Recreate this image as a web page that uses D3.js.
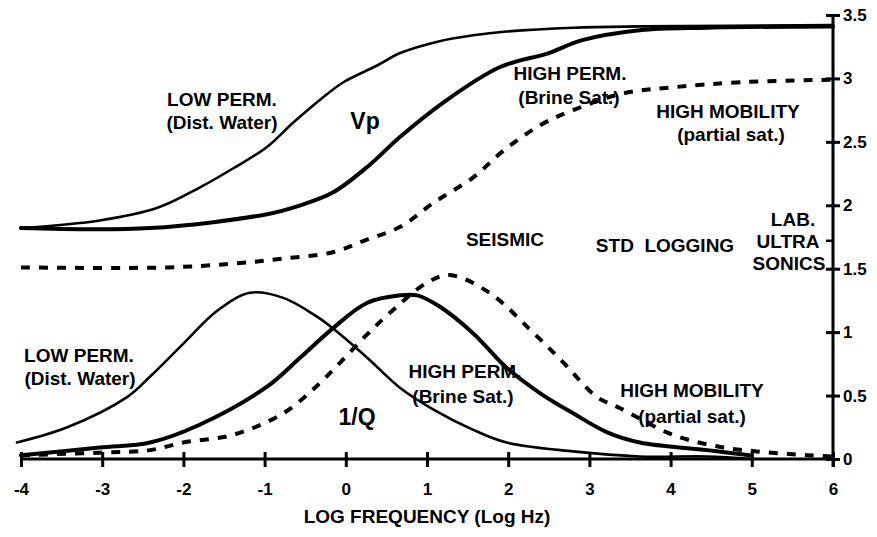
<!DOCTYPE html>
<html>
<head>
<meta charset="utf-8">
<script src="https://cdn.jsdelivr.net/npm/d3@7"></script>
<style>
  body { margin: 0; background: #fff; }
  text { font-family: "Liberation Sans", Arial, sans-serif; font-weight: bold; fill: #000; }
</style>
</head>
<body>
<script>
// Vp curves (top) and 1/Q curves (bottom)
var vpLowX  = [-4, -3.03, -2.32, -1.8, -1.39, -0.97, -0.65, -0.32, -0.03, 0.38, 0.67, 1.13, 1.57, 1.98, 2.8, 3.62, 6];
var vpLowY  = [1.82, 1.88, 1.98, 2.14, 2.29, 2.46, 2.65, 2.83, 2.97, 3.1, 3.2, 3.29, 3.34, 3.37, 3.4, 3.41, 3.42];
var vpHighX = [-4, -2.41, -0.97, -0.56, -0.16, 0.26, 0.67, 1.2, 1.9, 2.5, 2.9, 3.62, 4.45, 6];
var vpHighY = [1.82, 1.82, 1.93, 2.0, 2.1, 2.3, 2.54, 2.81, 3.09, 3.2, 3.3, 3.38, 3.4, 3.41];
var vpMobX  = [-4, -2.2, -1.39, -0.77, -0.16, 0.26, 0.67, 1.08, 1.57, 1.94, 2.39, 2.8, 3.4, 4.03, 4.86, 6];
var vpMobY  = [1.51, 1.51, 1.54, 1.58, 1.63, 1.73, 1.83, 2.02, 2.22, 2.43, 2.63, 2.75, 2.88, 2.93, 2.97, 2.99];

var qLowX  = [-4.05, -3.43, -2.69, -2.41, -2.0, -1.58, -1.18, -0.77, -0.35, -0.16, 0.26, 0.67, 1.08, 1.57, 1.98, 2.8, 3.62, 4.45, 5.0];
var qLowY  = [0.13, 0.25, 0.49, 0.65, 0.91, 1.17, 1.31, 1.27, 1.12, 1.03, 0.8, 0.56, 0.39, 0.23, 0.13, 0.06, 0.02, 0.02, 0.0];
var qHighX = [-4, -3.03, -2.41, -1.8, -0.97, -0.56, -0.16, 0.26, 0.67, 0.88, 1.16, 1.57, 1.98, 2.39, 2.8, 3.22, 3.62, 4.45, 4.97];
var qHighY = [0.03, 0.09, 0.13, 0.27, 0.57, 0.8, 1.03, 1.23, 1.29, 1.29, 1.2, 0.99, 0.72, 0.52, 0.36, 0.21, 0.13, 0.07, 0.03];
var qMobX  = [-4, -3.03, -2.41, -2.0, -1.39, -0.77, -0.35, -0.07, 0.26, 0.54, 1.0, 1.28, 1.77, 2.27, 2.68, 3.09, 3.38, 4.03, 4.65, 5.06, 5.68, 6];
var qMobY  = [0.03, 0.05, 0.07, 0.13, 0.19, 0.36, 0.58, 0.76, 0.98, 1.15, 1.39, 1.45, 1.31, 1.02, 0.76, 0.49, 0.4, 0.19, 0.09, 0.06, 0.03, 0.02];

var xTicks = [-4, -3, -2, -1, 0, 1, 2, 3, 4, 5, 6];
var yTicks = [0, 0.5, 1, 1.5, 2, 2.5, 3, 3.5];

var width = 877, height = 537;

var svg = d3.select("body").append("svg")
  .attr("width", width)
  .attr("height", height);

var x = d3.scaleLinear().domain([-4, 6]).range([21, 833]);
var y = d3.scaleLinear().domain([0, 3.5]).range([459, 15]);

// x axis
var xAxis = svg.append("g")
  .attr("transform", "translate(0," + y(0) + ")")
  .call(d3.axisBottom(x).tickValues(xTicks).tickSize(8).tickPadding(16)
    .tickFormat(function (d) { return d; }));
xAxis.select(".domain").attr("stroke", "#000").attr("stroke-width", 3)
  .attr("d", "M" + x(-4) + ",0H" + x(6));
xAxis.selectAll(".tick line").attr("stroke-width", 3).attr("y1", -7);
xAxis.selectAll(".tick text").style("font-size", "17px")
  .text(function (d) { return d < 0 ? "-" + Math.abs(d) : d; });

// right axis
var yAxis = svg.append("g")
  .attr("transform", "translate(" + x(6) + ",0)")
  .call(d3.axisRight(y).tickValues(yTicks).tickSize(7).tickPadding(3)
    .tickFormat(function (d) { return d; }));
yAxis.select(".domain").attr("stroke", "#000").attr("stroke-width", 3)
  .attr("d", "M0," + y(3.5) + "V" + (y(0) + 8));
yAxis.selectAll(".tick line").attr("stroke-width", 3).attr("x1", -7);
yAxis.selectAll(".tick text").style("font-size", "17px");
yAxis.append("line")
  .attr("x1", -7).attr("x2", 0)
  .attr("y1", y(1.72)).attr("y2", y(1.72))
  .attr("stroke", "#000").attr("stroke-width", 2.5);

// curves
function drawCurve(xs, ys, w, dash) {
  var pts = xs.map(function (v, i) { return [v, ys[i]]; });
  var line = d3.line()
    .x(function (d) { return x(d[0]); })
    .y(function (d) { return y(d[1]); })
    .curve(d3.curveCatmullRom.alpha(0.5));
  svg.append("path")
    .attr("d", line(pts))
    .attr("fill", "none")
    .attr("stroke", "#000")
    .attr("stroke-width", w)
    .attr("stroke-linecap", dash ? "butt" : "round")
    .attr("stroke-dasharray", dash ? "9,9" : null);
}

drawCurve(vpLowX, vpLowY, 2.6, false);
drawCurve(vpHighX, vpHighY, 4, false);
drawCurve(vpMobX, vpMobY, 4, true);
drawCurve(qLowX, qLowY, 2.6, false);
drawCurve(qHighX, qHighY, 4, false);
drawCurve(qMobX, qMobY, 4, true);

// annotations
var labels = [
  ["LOW PERM.", 222, 106, 19], ["(Dist. Water)", 222, 129, 19],
  ["Vp", 365, 129, 23],
  ["HIGH PERM.", 570, 80, 19], ["(Brine Sat.)", 569, 104, 19],
  ["HIGH MOBILITY", 728, 118, 19], ["(partial sat.)", 731, 141, 19],
  ["SEISMIC", 505, 246, 19], ["STD  LOGGING", 665, 252, 19],
  ["LAB.", 793, 226, 19], ["ULTRA", 788, 248, 19], ["SONICS", 789, 270, 19],
  ["LOW PERM.", 79, 362, 19], ["(Dist. Water)", 80, 385, 19],
  ["1/Q", 357, 425, 23],
  ["HIGH PERM.", 465, 378, 19], ["(Brine Sat.)", 463, 403, 19],
  ["HIGH MOBILITY", 692, 397, 19], ["(partial sat.)", 692, 423, 19]
];
svg.selectAll("text.note")
  .data(labels)
  .enter().append("text")
  .attr("class", "note")
  .attr("x", function (d) { return d[1]; })
  .attr("y", function (d) { return d[2]; })
  .attr("text-anchor", "middle")
  .style("font-size", function (d) { return d[3] + "px"; })
  .style("white-space", "pre")
  .text(function (d) { return d[0]; });

svg.append("text")
  .attr("x", 427).attr("y", 523)
  .attr("text-anchor", "middle")
  .style("font-size", "19px")
  .text("LOG FREQUENCY (Log Hz)");
</script>
</body>
</html>
